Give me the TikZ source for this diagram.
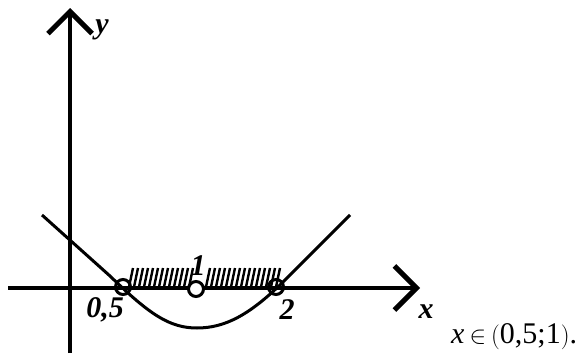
\documentclass[tikz,border=0pt]{standalone}
\usepackage{fontspec}
\setmainfont{Liberation Serif}
\usetikzlibrary{arrows.meta}
\begin{document}
\begin{tikzpicture}[x=1pt,y=-1pt,
  axis/.style={line width=4pt,-{Straight Barb[length=22pt,width=44pt,line width=5pt]}},
  curve/.style={line width=3pt},
  hatch/.style={line width=2.4pt},
  pt/.style={circle,draw,line width=3pt,minimum size=15pt,inner sep=0pt},
  lab/.style={font=\fontsize{30}{30}\selectfont\bfseries\itshape,inner sep=0pt}]
\useasboundingbox (0,0) rectangle (579,356);
\coordinate (xs) at (8,288);
\coordinate (xe) at (420,288);
\coordinate (ys) at (70,353);
\coordinate (ye) at (70,8);
\draw[axis] (xs) -- (xe);
\draw[axis] (ys) -- (ye);
% curve
\draw[curve] (42,215) -- (110,276) .. controls (150,315) and (170,328) .. (197,328)
  .. controls (225,328) and (250,315) .. (285,280) -- (350,215);
% points
\node[pt] (p05) at (123,287) {};
\node[pt,fill=white] (p1) at (196,289) {};
\node[pt] (p2) at (276,287) {};
% hatching
\foreach \x in {129,134,...,190,206,211,...,277}
  \draw[hatch] (\x,287) -- (\x+4,268);
% labels
\node[lab] (l05) at (105,310) {0,5};
\node[lab] (l1) at (198,266) {1};
\node[lab] (l2) at (287,310) {2};
\node[lab] (lx) at (426,312) {x};
\node[lab] (ly) at (102,30) {y};
\node[inner sep=0pt,anchor=base west,font=\fontsize{30}{30}\selectfont] (ans) at (451,343) {\textit{x}\,$\in$\,$\bigl($0,5;1$\bigr)$.};
\end{tikzpicture}
\end{document}
